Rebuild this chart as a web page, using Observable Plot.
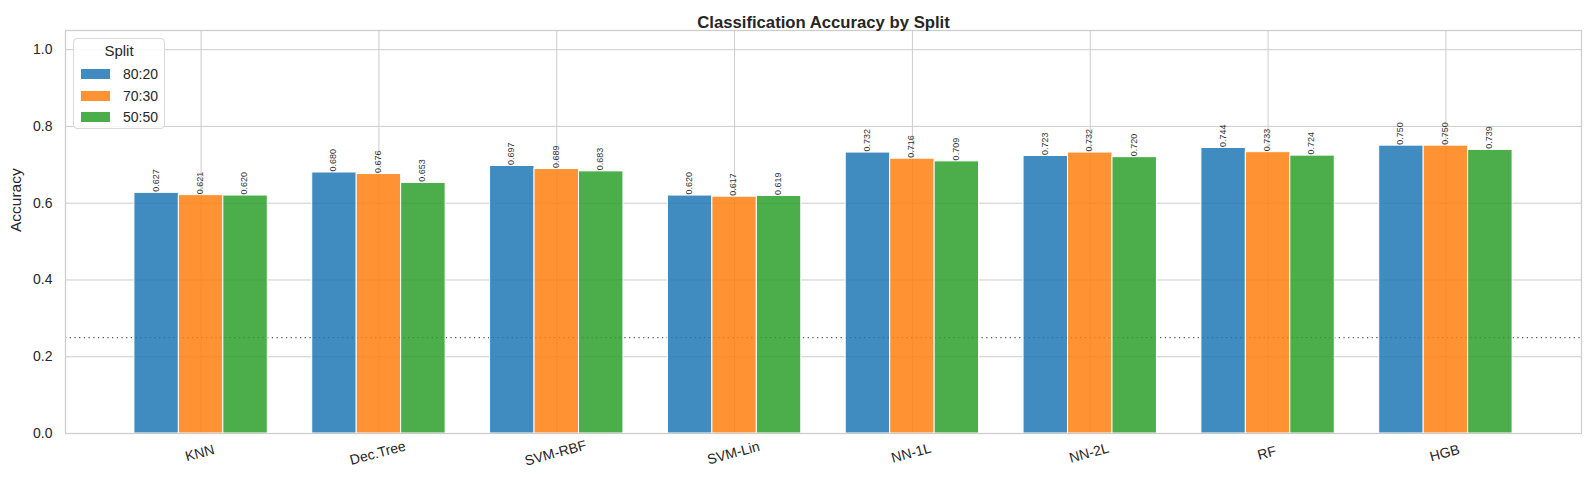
<!DOCTYPE html>
<html>
<head>
<meta charset="utf-8">
<script src="https://cdn.jsdelivr.net/npm/d3@7"></script>
<script src="https://cdn.jsdelivr.net/npm/@observablehq/plot@0.6"></script>
<style>
  body { margin: 0; background: #fff; }
  #wrap { position: relative; width: 1587px; height: 487px; font-family: "Liberation Sans", Arial, sans-serif; color: #262626; }
  #legend { position: absolute; left: 73px; top: 38px; width: 92px; height: 91px; box-sizing: border-box;
    border: 1px solid #d9d9d9; border-radius: 4px; background: rgba(255,255,255,0.85); }
  #legend .t { position: absolute; left: 0; width: 100%; top: 3px; text-align: center; font-size: 15px; }
  #legend .row { position: absolute; left: 7px; height: 16px; font-size: 14px; line-height: 16px; }
  #legend .sw { position: absolute; left: 0; top: 3px; width: 29px; height: 10px; }
  #legend .lb { position: absolute; left: 42px; top: 0; white-space: nowrap; }
</style>
</head>
<body>
<div id="wrap"></div>
<script>
const models = ["KNN", "Dec.Tree", "SVM-RBF", "SVM-Lin", "NN-1L", "NN-2L", "RF", "HGB"];
const splits = ["80:20", "70:30", "50:50"];
const acc8020 = [0.627, 0.680, 0.697, 0.620, 0.732, 0.723, 0.744, 0.750];
const acc7030 = [0.621, 0.676, 0.689, 0.617, 0.716, 0.732, 0.733, 0.750];
const acc5050 = [0.620, 0.653, 0.683, 0.619, 0.709, 0.720, 0.724, 0.739];
const colors = ["#1f77b4", "#ff7f0e", "#2ca02c"];
const yTicks = [0.0, 0.2, 0.4, 0.6, 0.8, 1.0];
const chanceLevel = [0.25];
const title = "Classification Accuracy by Split";
const yLabel = "Accuracy";

const series = [acc8020, acc7030, acc5050];
const rows = models.flatMap((m, i) => splits.map((s, j) => ({model: m, i, j, split: s, value: series[j][i]})));
const bw = 0.25;
const center = d => d.i + (d.j - 1) * bw;
const n = models.length;
const pad = (n - 1 + 3 * bw) * 0.05 + 1.5 * bw;

const font = "'Liberation Sans', Arial, sans-serif";
const ink = "#262626";

const chart = Plot.plot({
  width: 1587,
  height: 487,
  marginLeft: 65,
  marginRight: 6,
  marginTop: 30,
  marginBottom: 54,
  style: {fontFamily: font, color: ink, background: "#fff", overflow: "visible"},
  x: {type: "linear", domain: [-pad, n - 1 + pad], axis: null},
  y: {domain: [0, 1.05], ticks: yTicks, tickFormat: d3.format(".1f"), tickSize: 0, tickPadding: 13, label: null, fontSize: 14},
  color: {domain: splits, range: colors},
  marks: [
    Plot.gridY(yTicks, {stroke: "#cccccc", strokeOpacity: 1, strokeWidth: 1}),
    Plot.gridX(d3.range(n), {stroke: "#cccccc", strokeOpacity: 1, strokeWidth: 1}),
    Plot.ruleY(chanceLevel, {stroke: "#5a5a5a", strokeWidth: 1.3, strokeDasharray: "1.3,3.4"}),
    Plot.rectY(rows, {
      x1: d => center(d) - bw / 2,
      x2: d => center(d) + bw / 2,
      y1: 0,
      y2: "value",
      fill: "split",
      fillOpacity: 0.85,
      stroke: "#ffffff",
      strokeWidth: 1
    }),
    Plot.text(rows, {
      x: center,
      y: "value",
      text: d => d.value.toFixed(3),
      rotate: -90,
      textAnchor: "start",
      lineAnchor: "middle",
      dx: -1,
      dy: -1,
      fontSize: 9,
      fill: "#333333"
    }),
    Plot.frame({stroke: "#cccccc", strokeWidth: 1.25}),
    Plot.axisY(yTicks, {tickFormat: d3.format(".1f"), tickSize: 0, tickPadding: 13, fontSize: 14, label: null}),
    Plot.text(models, {x: (d, i) => i, frameAnchor: "bottom", dy: 24, rotate: -15, fontSize: 14, fill: ink, textAnchor: "middle"}),
    Plot.text([yLabel], {frameAnchor: "left", dx: -49, rotate: -90, fontSize: 15.5, fill: ink}),
    Plot.text([title], {frameAnchor: "top", dy: -14, fontSize: 16.7, fontWeight: "bold", fill: ink})
  ]
});

const wrap = document.getElementById("wrap");
wrap.appendChild(chart);

const legend = document.createElement("div");
legend.id = "legend";
const lt = document.createElement("div");
lt.className = "t";
lt.textContent = "Split";
legend.appendChild(lt);
splits.forEach((s, j) => {
  const row = document.createElement("div");
  row.className = "row";
  row.style.top = (27 + j * 21.5) + "px";
  const sw = document.createElement("div");
  sw.className = "sw";
  sw.style.background = colors[j];
  sw.style.opacity = 0.85;
  const lb = document.createElement("div");
  lb.className = "lb";
  lb.textContent = s;
  row.appendChild(sw);
  row.appendChild(lb);
  legend.appendChild(row);
});
wrap.appendChild(legend);
</script>
</body>
</html>
